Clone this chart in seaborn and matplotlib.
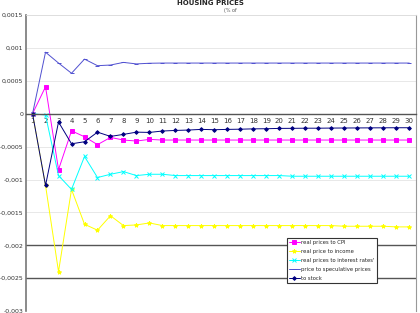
import numpy as np
import pandas as pd
import matplotlib
matplotlib.use("Agg")
import matplotlib.pyplot as plt
import seaborn as sns
from matplotlib.ticker import FuncFormatter

periods = list(range(1, 31))

cpi = [0, 0.00041, -0.00085, -0.00026, -0.00035, -0.00047, -0.00036, -0.0004, -0.000415, -0.00039,
       -0.0004, -0.0004, -0.0004, -0.0004, -0.0004, -0.0004, -0.0004, -0.0004, -0.0004, -0.0004,
       -0.0004, -0.0004, -0.0004, -0.0004, -0.0004, -0.0004, -0.0004, -0.0004, -0.0004, -0.0004]
income = [0, -0.00109, -0.0024, -0.00115, -0.00168, -0.00177, -0.00155, -0.0017, -0.00169, -0.00166,
          -0.0017, -0.0017, -0.0017, -0.0017, -0.0017, -0.0017, -0.0017, -0.0017, -0.0017, -0.0017,
          -0.0017, -0.0017, -0.0017, -0.0017, -0.00171, -0.00171, -0.00171, -0.00171, -0.00172, -0.00172]
interest = [0, -0.00002, -0.00094, -0.00115, -0.00065, -0.00097, -0.00092, -0.00088, -0.00094, -0.00092,
            -0.00092, -0.00094, -0.00094, -0.00094, -0.00094, -0.00094, -0.00094, -0.00094, -0.00094, -0.00094,
            -0.00095, -0.00095, -0.00095, -0.00095, -0.00095, -0.00095, -0.00095, -0.00095, -0.00095, -0.00095]
speculative = [0, 0.000935, 0.00077, 0.000615, 0.00083, 0.00073, 0.00074, 0.00078, 0.000757, 0.000767,
               0.00077, 0.00077, 0.00077, 0.00077, 0.00077, 0.00077, 0.00077, 0.00077, 0.00077, 0.00077,
               0.00077, 0.00077, 0.00077, 0.00077, 0.00077, 0.00077, 0.00077, 0.00077, 0.00077, 0.00077]
stock = [0, -0.00109, -0.000126, -0.000457, -0.000426, -0.00028, -0.000345, -0.000314, -0.00028, -0.000284,
         -0.000263, -0.000254, -0.000248, -0.000238, -0.000243, -0.000238, -0.000235, -0.00023, -0.000228, -0.000223,
         -0.000222, -0.00022, -0.00022, -0.000218, -0.000217, -0.000216, -0.000215, -0.000214, -0.000213, -0.000213]

labels = ["real prices to CPI", "real price to income", "real prices to interest rates'",
          "price to speculative prices", "to stock"]
yticks = [0.0015, 0.001, 0.0005, 0, -0.0005, -0.001, -0.0015, -0.002, -0.0025, -0.003]

sns.set_style("white")
plt.rcParams['font.family'] = ['DejaVu Sans']

fig = plt.figure(figsize=(4.2, 3.13), dpi=100)
ax = fig.add_axes([0.062, 0.006, 0.928, 0.946])

styles = [
    ("#FF00FF", "s", 2.4),
    ("#FFFF00", "*", 3.0),
    ("#00FFFF", "x", 2.6),
    ("#5050D0", "_", 2.2),
    ("#000080", "D", 1.9),
]
series = [cpi, income, interest, speculative, stock]
for vals, lab, (col, mk, ms) in zip(series, labels, styles):
    sns.lineplot(x=periods, y=vals, ax=ax, color=col, marker=mk, markersize=ms,
                 markeredgecolor=col, markeredgewidth=0.7, linewidth=0.7, label=lab)

ax.set_xlim(0.5, 30.5)
ax.set_ylim(-0.003, 0.0015)
ax.set_yticks(yticks)
ax.yaxis.set_major_formatter(FuncFormatter(lambda v, p: ("%g" % round(v, 5)).replace(".", ",")))
ax.set_xticks(periods)
ax.tick_params(axis="y", labelsize=4.5, length=0, pad=2, colors="#333333")
ax.tick_params(axis="x", labelsize=5, length=2, width=0.6, direction="out", pad=1, colors="#333333")

for v in yticks:
    if v in (-0.002, -0.0025):
        ax.axhline(v, color="#555555", linewidth=1.0, zorder=0)
    elif v != 0:
        ax.axhline(v, color="#e4e4e4", linewidth=0.6, zorder=0)

ax.spines["bottom"].set_position(("data", 0))
ax.spines["bottom"].set_color("#555555")
ax.spines["bottom"].set_linewidth(1.0)
ax.spines["left"].set_color("#777777")
ax.spines["left"].set_linewidth(1.2)
ax.spines["top"].set_color("#dddddd")
ax.spines["top"].set_linewidth(0.6)
ax.spines["right"].set_color("#999999")
ax.spines["right"].set_linewidth(0.8)
ax.set_xlabel("")
ax.set_ylabel("")

leg = ax.legend(loc="lower left", bbox_to_anchor=(0.669, 0.095), fontsize=3.8, frameon=True,
                fancybox=False, edgecolor="#333333", handlelength=2.2, borderpad=0.35,
                labelspacing=0.75, handletextpad=0.2, borderaxespad=0)
leg.get_frame().set_linewidth(0.8)
leg.get_frame().set_alpha(1)

fig.text(0.5, 0.999, "HOUSING PRICES", ha="center", va="top", fontsize=5, fontweight="bold")
fig.text(0.548, 0.966, "(% of", ha="center", va="center", fontsize=3.5, color="#555555")

fig.savefig("out.png", dpi=100)
